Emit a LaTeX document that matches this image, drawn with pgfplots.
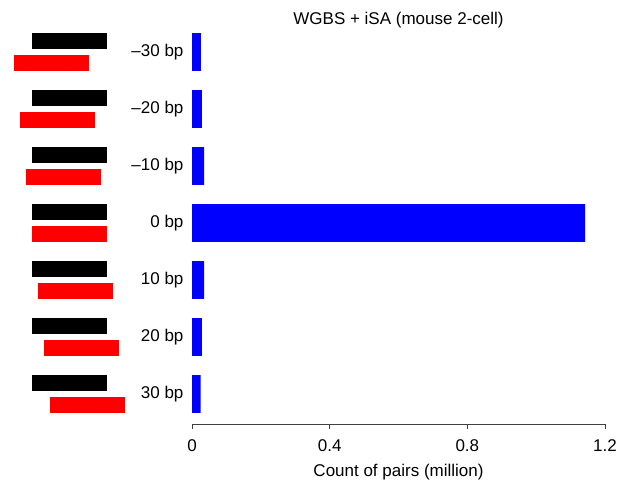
\documentclass[border=0pt]{standalone}
\usepackage{fontspec}
\setmainfont{Liberation Sans}
\usepackage{pgfplots}
\pgfplotsset{compat=1.18}
\definecolor{pureblue}{RGB}{0,0,255}
\definecolor{purered}{RGB}{255,0,0}
\definecolor{axgray}{RGB}{64,64,64}
\begin{document}
\begin{tikzpicture}[x=1pt,y=1pt]
\path[use as bounding box] (0,0) rectangle (617,482);
\begin{axis}[
  at={(192pt,58pt)}, anchor=south west,
  scale only axis, width=413pt, height=403.3pt,
  font=\fontsize{17}{20}\selectfont,
  /pgf/number format/assume math mode=true,
  xmin=0, xmax=1.2, ymin=-0.526, ymax=6.55,
  xbar, bar width=0.66,
  axis x line*=bottom, axis y line*=left,
  x axis line style={axgray, line width=1pt, -},
  y axis line style={draw=none},
  xtick={0,0.4,0.8,1.2}, xticklabels={0,0.4,0.8,1.2},
  xtick style={axgray, line width=1pt},
  xticklabel style={yshift=-7pt},
  tick align=outside, major tick length=5pt,
  ytick={0,1,2,3,4,5,6},
  yticklabels={30 bp,20 bp,10 bp,0 bp,–10 bp,–20 bp,–30 bp},
  ytick style={draw=none},
  yticklabel style={anchor=east},
  xlabel={Count of pairs (million)},
  xlabel style={yshift=-6pt},
  title={WGBS + iSA (mouse 2-cell)},
  title style={at={(axis description cs:0.5,1)}, anchor=base, yshift=-10pt},
]
\addplot[fill=pureblue, draw=none] coordinates {(0.025,0) (0.029,1) (0.035,2) (1.142,3) (0.035,4) (0.029,5) (0.026,6)};
\end{axis}
\begin{axis}[
  at={(0pt,58pt)}, anchor=south west,
  scale only axis, width=192pt, height=403.3pt,
  xmin=0, xmax=192, ymin=-0.526, ymax=6.55,
  hide axis, clip=false,
]
% black reference reads
\addplot[fill=black, draw=none] coordinates {(32,6.05) (107,6.05) (107,6.33) (32,6.33)} -- cycle;
\addplot[fill=black, draw=none] coordinates {(32,5.05) (107,5.05) (107,5.33) (32,5.33)} -- cycle;
\addplot[fill=black, draw=none] coordinates {(32,4.05) (107,4.05) (107,4.33) (32,4.33)} -- cycle;
\addplot[fill=black, draw=none] coordinates {(32,3.05) (107,3.05) (107,3.33) (32,3.33)} -- cycle;
\addplot[fill=black, draw=none] coordinates {(32,2.05) (107,2.05) (107,2.33) (32,2.33)} -- cycle;
\addplot[fill=black, draw=none] coordinates {(32,1.05) (107,1.05) (107,1.33) (32,1.33)} -- cycle;
\addplot[fill=black, draw=none] coordinates {(32,0.05) (107,0.05) (107,0.33) (32,0.33)} -- cycle;
% red shifted reads
\addplot[fill=purered, draw=none] coordinates {(14,5.66) (89,5.66) (89,5.95) (14,5.95)} -- cycle;
\addplot[fill=purered, draw=none] coordinates {(20,4.66) (95,4.66) (95,4.95) (20,4.95)} -- cycle;
\addplot[fill=purered, draw=none] coordinates {(26,3.66) (101,3.66) (101,3.95) (26,3.95)} -- cycle;
\addplot[fill=purered, draw=none] coordinates {(32,2.66) (107,2.66) (107,2.95) (32,2.95)} -- cycle;
\addplot[fill=purered, draw=none] coordinates {(38,1.66) (113,1.66) (113,1.95) (38,1.95)} -- cycle;
\addplot[fill=purered, draw=none] coordinates {(44,0.66) (119,0.66) (119,0.95) (44,0.95)} -- cycle;
\addplot[fill=purered, draw=none] coordinates {(50,-0.34) (125,-0.34) (125,-0.05) (50,-0.05)} -- cycle;
\end{axis}
\end{tikzpicture}
\end{document}
